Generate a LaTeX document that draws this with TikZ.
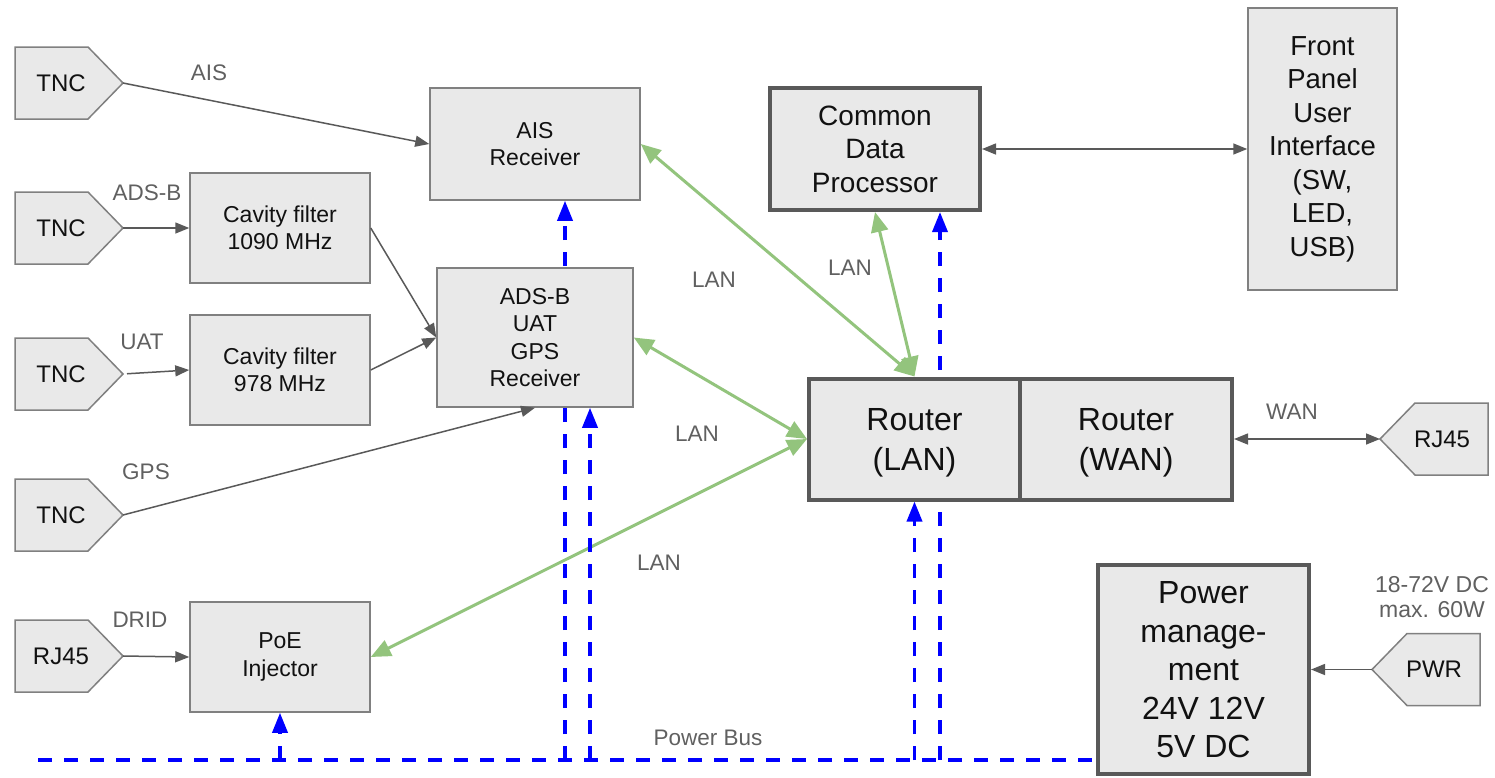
\documentclass[tikz,border=0pt]{standalone}
\usepackage{fontspec}
\setmainfont{Liberation Sans}
\usetikzlibrary{arrows.meta}
\pgfdeclarelayer{background}
\pgfsetlayers{background,main}
\definecolor{boxfill}{HTML}{E9E9E9}
\definecolor{boxline}{HTML}{808080}
\definecolor{thickline}{HTML}{595959}
\definecolor{lblc}{HTML}{606060}
\definecolor{txt}{HTML}{111111}
\definecolor{lanc}{HTML}{93C47D}
\definecolor{pwrc}{HTML}{0000FF}
\newcommand{\portright}[4]{%
  \draw[port] (#2,#3-36) -- ++(73,0) -- ++(35,36) -- ++(-35,36) -- ++(-73,0) -- cycle;
  \coordinate (#1tip) at (#2+108,#3);
  \node[porttext] (#1) at (#2+46,#3) {#4};
}
\newcommand{\portleft}[4]{%
  \draw[port] (#2,#3) -- ++(35,-36) -- ++(73,0) -- ++(0,72) -- ++(-73,0) -- cycle;
  \coordinate (#1tip) at (#2,#3);
  \node[porttext] (#1) at (#2+62,#3) {#4};
}
\tikzset{
  box/.style={draw=boxline, fill=boxfill, line width=1.5pt, align=center, inner sep=0pt,
    text=txt, font=\fontsize{23}{27.5}\selectfont},
  bigbox/.style={box, draw=thickline, line width=4pt},
  routerbox/.style={bigbox, minimum width=211pt, minimum height=121pt, font=\fontsize{32}{40}\selectfont, text depth=-7pt},
  port/.style={draw=boxline, fill=boxfill, line width=1.5pt},
  porttext/.style={text=txt, inner sep=0pt, font=\fontsize{24}{28}\selectfont},
  lbl/.style={text=lblc, inner sep=0pt, align=center, font=\fontsize{22.5}{25}\selectfont},
  sig/.style={draw=thickline, line width=1.5pt, -{Triangle[length=14pt,width=11pt]}},
  sigboth/.style={draw=thickline, line width=1.5pt, {Triangle[length=14pt,width=11pt]}-{Triangle[length=14pt,width=11pt]}},
  lan/.style={draw=lanc, line width=3pt, {Triangle[length=20pt,width=17pt]}-{Triangle[length=20pt,width=17pt]}},
  pwrl/.style={draw=pwrc, line width=3.5pt, dash pattern=on 14pt off 12pt},
  pwra/.style={pwrl, -{Triangle[length=20pt,width=15pt]}},
}
\begin{document}
\begin{tikzpicture}[x=1pt,y=-1pt]
\useasboundingbox (0,0) rectangle (1495,777);
% boxes
\node[box, minimum width=210pt, minimum height=112pt] (ais) at (535,144) {AIS\\Receiver};
\node[box, minimum width=180pt, minimum height=110pt] (cav1) at (280,228) {Cavity filter\\1090 MHz};
\node[box, minimum width=180pt, minimum height=110pt] (cav2) at (280,370) {Cavity filter\\978 MHz};
\node[box, minimum width=196pt, minimum height=139pt] (adsb) at (535,337.5) {ADS-B\\UAT\\GPS\\Receiver};
\node[box, minimum width=180pt, minimum height=110pt] (poe) at (280,657) {PoE\\Injector};
\node[bigbox, minimum width=210pt, minimum height=122pt, font=\fontsize{28}{33.5}\selectfont] (cdp) at (875,149) {Common\\Data\\Processor};
\node[box, minimum width=149pt, minimum height=282pt, font=\fontsize{27.5}{33.5}\selectfont] (fp) at (1322.5,149) {Front\\Panel\\User\\Interface\\(SW,\\LED,\\USB)};
\node[routerbox] (rlan) at (914.5,439) {Router\\(LAN)};
\node[routerbox, minimum width=212pt] (rwan) at (1126,439) {Router\\(WAN)};
\node[bigbox, minimum width=211pt, minimum height=209pt, font=\fontsize{32}{38.5}\selectfont, text depth=-5pt] (pm) at (1203.5,669.5) {Power\\manage-\\ment\\24V 12V\\5V DC};
% ports
\portright{tnc1}{15}{83}{TNC}
\portright{tnc2}{15}{228}{TNC}
\portright{tnc3}{15}{374}{TNC}
\portright{tnc4}{15}{515}{TNC}
\portright{rjl}{15}{656}{RJ45}
\portleft{rjr}{1380}{439}{RJ45}
\portleft{pwr}{1372}{669.5}{PWR}
% signal connectors
\draw[sig] (tnc1tip) -- (ais.west);
\draw[sig] (tnc2tip) -- (cav1.west);
\draw[sig, shorten <=4pt] (tnc3tip) -- (cav2.west);
\draw[sig] (tnc4tip) -- (adsb.south);
\draw[sig] (rjltip) -- (poe.west);
\draw[sig] (cav1.east) -- (adsb.west);
\draw[sig] (cav2.east) -- (adsb.west);
\draw[sigboth] (cdp.east) -- (fp.west);
\draw[sigboth] (rwan.east) -- (rjrtip);
\draw[sig] (pwrtip) -- (pm.east);
% LAN
\draw[lan] (ais.east) -- (rlan.north);
\draw[lan] (cdp.south) -- (rlan.north);
\draw[lan] (adsb.east) -- (rlan.west);
\draw[lan] (poe.east) -- (rlan.west);
% power bus
\coordinate (busL) at (38,760);
\coordinate (b1) at (565,760);
\coordinate (b2) at (590,760);
\coordinate (b3) at (280,760);
\coordinate (b4) at (914.5,760);
\coordinate (b5) at (940,760);
\begin{pgfonlayer}{background}
\draw[pwrl] (busL) -- (pm.west |- busL);
\draw[pwra] (b1) -- (b1 |- ais.south);
\draw[pwra] (b5) -- (b5 |- cdp.south);
\end{pgfonlayer}
\draw[pwra] (b2) -- (b2 |- adsb.south);
\draw[pwra] (b3) -- (poe.south);
\draw[pwra] (b4) -- (rlan.south);
% labels
\node[lbl] (lais) at (209,73) {AIS};
\node[lbl] (ladsb) at (147,193) {ADS-B};
\node[lbl] (luat) at (142,342) {UAT};
\node[lbl] (lgps) at (146,472) {GPS};
\node[lbl] (ldrid) at (140,620) {DRID};
\node[lbl] (llan1) at (714,280) {LAN};
\node[lbl] (llan2) at (850,268) {LAN};
\node[lbl] (llan3) at (697,434) {LAN};
\node[lbl] (llan4) at (659,563) {LAN};
\node[lbl] (lwan) at (1292,412) {WAN};
\node[lbl, font=\fontsize{23}{25}\selectfont] (lpwr) at (1432,597) {18-72V DC\\max. 60W};
\node[lbl] (lbus) at (708,738) {Power Bus};
\end{tikzpicture}
\end{document}
